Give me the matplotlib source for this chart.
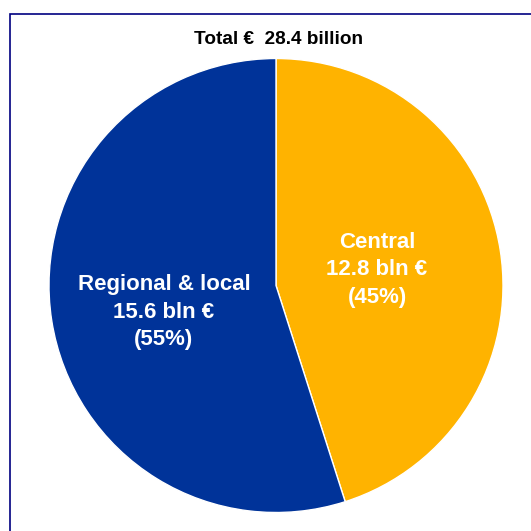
import numpy as np
import matplotlib.pyplot as plt
from matplotlib.patches import Rectangle

plt.rcParams['font.family'] = ['Liberation Sans', 'DejaVu Sans']

categories = ["Central", "Regional & local"]
values = [12.8, 15.6]           # bln EUR
shares = [45, 55]               # percent as printed
colors = ["#FFB300", "#003399"]
total = 28.4

fig = plt.figure(figsize=(5.31, 5.31), dpi=100)
W = 531.0
cx, cy, r = 276.0, 285.5, 227.0
ax = fig.add_axes([(cx - r) / W, (W - cy - r) / W, 2 * r / W, 2 * r / W])

wedges, _ = ax.pie(
    values, colors=colors, startangle=90, counterclock=False,
    wedgeprops=dict(edgecolor="white", linewidth=1.0))

# label placement: radius and small angle shift for each wedge
lab_r = [0.452, 0.505]
lab_shift = [1.2, 3.4]
for w, c, v, s, lr, sh in zip(wedges, categories, values, shares, lab_r, lab_shift):
    ang = np.deg2rad((w.theta1 + w.theta2) / 2 + sh)
    ax.text(lr * np.cos(ang), lr * np.sin(ang) - 0.01,
            "%s\n%.1f bln €\n(%d%%)" % (c, v, s),
            color="white", fontsize=16, fontweight="bold",
            ha="center", va="center", linespacing=1.42)

ax.set_xlim(-1, 1)
ax.set_ylim(-1, 1)
ax.set_aspect("equal")
ax.axis("off")

fig.text(278 / W, 1 - 40 / W, "Total €  %.1f billion" % total,
         ha="center", va="center", fontsize=13.7, fontweight="bold")

# frame around the chart (only top and left inside the picture)
fig.patches.append(Rectangle((9.5 / W, -0.1), 1.2, (W - 13.5) / W + 0.1,
                             transform=fig.transFigure, fill=False,
                             edgecolor="#000080", linewidth=1.2))

fig.savefig("out.png", dpi=100)
